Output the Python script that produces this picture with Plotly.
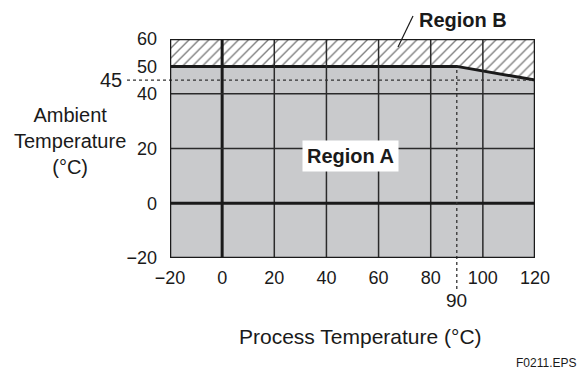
import plotly.graph_objects as go

# ---- data ----
x_ticks = [-20, 0, 20, 40, 60, 80, 100, 120]
x_tick_text = ["\u221220", "0", "20", "40", "60", "80", "100", "120"]
y_ticks = [-20, 0, 20, 40, 50, 60]
y_tick_text = ["\u221220", "0", "20", "40", "50", "60"]

# boundary between Region A and Region B
boundary_x = [-20, 90, 120]
boundary_y = [50, 50, 45]

x_min, x_max = -20, 120
y_min, y_max = -20, 60

grid_x_thin = [20, 40, 60, 80, 100]
grid_x_thick = [0]
grid_y_thin = [20, 40]
grid_y_thick = [0]

ref_x = 90
ref_y = 45

FONT = "Liberation Sans, Arial, sans-serif"
GRAY = "#c9cacc"
INK = "#1a1a1a"

W, H = 583, 371
ML, MR, MT, MB = 170, 48, 39, 113
pw, ph = W - ML - MR, H - MT - MB


def px(xp):
    return (xp - ML) / pw


def py(yp):
    return (H - MB - yp) / ph


fig = go.Figure()

# Region A (gray)
fig.add_trace(go.Scatter(x=[x_min] + boundary_x + [x_max, x_min],
                         y=[y_min] + boundary_y + [y_min, y_min],
                         fill="toself", fillcolor=GRAY, mode="none",
                         hoverinfo="skip", showlegend=False))

# Region B (hatched)
fig.add_trace(go.Scatter(x=boundary_x + [x_max, x_min, x_min],
                         y=boundary_y + [y_max, y_max, boundary_y[0]],
                         fill="toself", mode="none",
                         fillpattern=dict(shape="/", fgcolor="#000000", bgcolor="white",
                                          size=7, solidity=0.2),
                         fillcolor="white",
                         hoverinfo="skip", showlegend=False))

shapes = []
for v in grid_x_thin:
    shapes.append(dict(type="line", xref="x", yref="y", x0=v, x1=v, y0=y_min, y1=y_max,
                       line=dict(color="#2a2a2a", width=1.5), layer="above"))
for v in grid_x_thick:
    shapes.append(dict(type="line", xref="x", yref="y", x0=v, x1=v, y0=y_min, y1=y_max,
                       line=dict(color=INK, width=3), layer="above"))
for v in grid_y_thin:
    shapes.append(dict(type="line", xref="x", yref="y", x0=x_min, x1=x_max, y0=v, y1=v,
                       line=dict(color="#2a2a2a", width=1.5), layer="above"))
for v in grid_y_thick:
    shapes.append(dict(type="line", xref="x", yref="y", x0=x_min, x1=x_max, y0=v, y1=v,
                       line=dict(color=INK, width=3), layer="above"))

# dotted reference lines
shapes.append(dict(type="line", xref="paper", yref="y", x0=px(127), x1=1, y0=ref_y, y1=ref_y,
                   line=dict(color="#333333", width=1.3, dash="dot"), layer="above"))
shapes.append(dict(type="line", xref="x", yref="paper", x0=ref_x, x1=ref_x,
                   y0=py(289), y1=(boundary_y[0] - y_min) / (y_max - y_min),
                   line=dict(color="#333333", width=1.3, dash="dot"), layer="above"))

# outer frame
shapes.append(dict(type="rect", xref="x", yref="y", x0=x_min, x1=x_max, y0=y_min, y1=y_max,
                   line=dict(color=INK, width=2.5), layer="above"))

# leader line for Region B
shapes.append(dict(type="line", xref="paper", yref="paper", x0=px(398), y0=py(47),
                   x1=px(413), y1=py(16),
                   line=dict(color=INK, width=1.2), layer="above"))

fig.update_layout(shapes=shapes)

# boundary line
fig.add_trace(go.Scatter(x=boundary_x, y=boundary_y, mode="lines",
                         line=dict(color=INK, width=3),
                         hoverinfo="skip", showlegend=False))

annotations = [
    dict(text="<b>Region A</b>", x=49.4, y=17.3, xref="x", yref="y", showarrow=False,
         xanchor="center", yanchor="middle",
         font=dict(family=FONT, size=20, color=INK), bgcolor="white", borderpad=4),
    dict(text="<b>Region B</b>", x=px(463), y=py(20), xref="paper", yref="paper",
         xanchor="center", yanchor="middle", showarrow=False,
         font=dict(family=FONT, size=20, color=INK)),
    dict(text="45", x=px(124), y=ref_y, xref="paper", yref="y", xanchor="right",
         yanchor="middle", showarrow=False, font=dict(family=FONT, size=20, color=INK)),
    dict(text="90", x=ref_x, y=py(300), xref="x", yref="paper", xanchor="center",
         yanchor="middle", showarrow=False, font=dict(family=FONT, size=19, color=INK)),
    dict(text="Ambient<br>Temperature<br>(\u00b0C)", x=px(70), y=py(141), xref="paper",
         yref="paper", xanchor="center", yanchor="middle", showarrow=False,
         font=dict(family=FONT, size=20, color=INK)),
    dict(text="Process Temperature (\u00b0C)", x=px(360), y=py(336), xref="paper",
         yref="paper", xanchor="center", yanchor="middle", showarrow=False,
         font=dict(family=FONT, size=21, color=INK)),
    dict(text="F0211.EPS", x=px(578), y=py(363), xref="paper", yref="paper",
         xanchor="right", yanchor="middle", showarrow=False,
         font=dict(family=FONT, size=12, color=INK)),
]
fig.update_layout(annotations=annotations)

fig.update_layout(
    width=W, height=H,
    margin=dict(l=ML, r=MR, t=MT, b=MB),
    paper_bgcolor="white", plot_bgcolor="white",
    font=dict(family=FONT, size=18, color=INK),
    hovermode=False,
    xaxis=dict(range=[x_min, x_max], tickvals=x_ticks, ticktext=x_tick_text,
               showgrid=False, zeroline=False, showline=False, ticks="",
               ticklabelstandoff=7, fixedrange=True),
    yaxis=dict(range=[y_min, y_max], tickvals=y_ticks, ticktext=y_tick_text,
               showgrid=False, zeroline=False, showline=False, ticks="",
               ticklabelstandoff=12, fixedrange=True),
)

fig.write_html("out.html", config={"displayModeBar": False},
               post_script="document.body.style.margin='0px';document.body.style.padding='0px';")
